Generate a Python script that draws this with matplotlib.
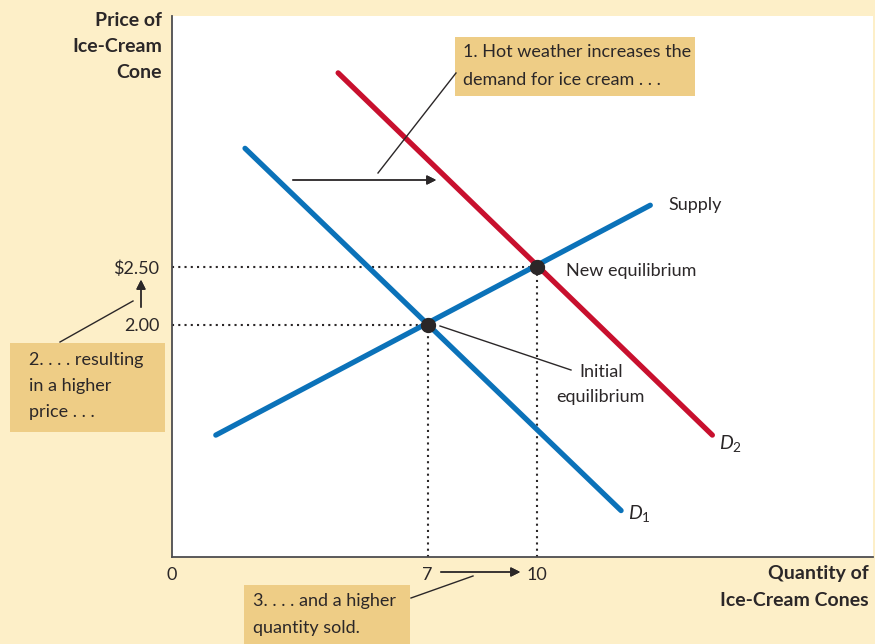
import matplotlib.pyplot as plt
from matplotlib.patches import Rectangle

# curve end points (quantity, price)
supply_q = [1.2, 13.1]
supply_p = [1.05, 3.03]
d1_q = [2.0, 12.3]
d1_p = [3.52, 0.40]
d2_q = [4.55, 14.8]
d2_p = [4.17, 1.05]

# equilibria
eq_q = [7, 10]
eq_p = [2.00, 2.50]

x_ticks = [0, 7, 10]
x_tick_labels = ["0", "7", "10"]
y_ticks = [2.00, 2.50]
y_tick_labels = ["2.00", "$2.50"]

BLUE = "#0b72b9"
RED = "#c8102e"
BOX = "#eecd86"
BG = "#fdefc8"
INK = "#2b2728"

plt.rcParams['font.family'] = ['Lato', 'DejaVu Sans']
plt.rcParams['mathtext.fontset'] = 'custom'
plt.rcParams['mathtext.it'] = 'Lato:italic'
plt.rcParams['mathtext.rm'] = 'Lato'

W, H = 875, 644
fig = plt.figure(figsize=(W / 100, H / 100), dpi=100, facecolor=BG)


def px(x, y):
    # pixel position (top-left origin) -> figure fraction
    return x / W, 1 - y / H


ax = fig.add_axes([172 / W, 1 - 557 / H, (873 - 172) / W, (557 - 16) / H])
ax.set_facecolor("white")
ax.set_xlim(0, 19.2)
ax.set_ylim(0, 4.66)
for s in ["top", "right"]:
    ax.spines[s].set_visible(False)
for s in ["left", "bottom"]:
    ax.spines[s].set_color("#4d4d4f")
    ax.spines[s].set_linewidth(1.3)

fs = 13
ax.set_xticks(x_ticks)
ax.set_xticklabels(x_tick_labels, fontsize=fs, color=INK)
ax.set_yticks(y_ticks)
ax.set_yticklabels(y_tick_labels, fontsize=fs, color=INK)
ax.tick_params(length=0)
ax.tick_params(axis="x", pad=7)
ax.tick_params(axis="y", pad=9)

# dotted guide lines
for q, p in zip(eq_q, eq_p):
    ax.plot([0, q], [p, p], ls=(0, (1, 2)), color=INK, lw=1.5)
    ax.plot([q, q], [0, p], ls=(0, (1, 2)), color=INK, lw=1.5)

ax.plot(d1_q, d1_p, color=BLUE, lw=3.8, solid_capstyle="round")
ax.plot(supply_q, supply_p, color=BLUE, lw=3.8, solid_capstyle="round")
ax.plot(d2_q, d2_p, color=RED, lw=3.8, solid_capstyle="round")
ax.plot(eq_q, eq_p, "o", color=INK, ms=10, zorder=5)

ax.text(13.6, 3.03, "Supply", fontsize=fs, color=INK, va="center")
ax.text(10.8, 2.46, "New equilibrium", fontsize=fs, color=INK, va="center")
fig.text(*px(601, 372), "Initial", fontsize=fs, color=INK, ha="center", va="center")
fig.text(*px(600, 397), "equilibrium", fontsize=fs, color=INK, ha="center", va="center")
fig.text(*px(719, 443), r"$\mathit{D}_2$", fontsize=14, color=INK, va="center")
fig.text(*px(628, 514), r"$\mathit{D}_1$", fontsize=14, color=INK, va="center")

# axis titles
for y, t in zip([20, 47, 73], ["Price of", "Ice-Cream", "Cone"]):
    fig.text(*px(162, y), t, fontsize=14, fontweight="bold", color=INK,
             ha="right", va="center")
for y, t in zip([574, 601], ["Quantity of", "Ice-Cream Cones"]):
    fig.text(*px(869, y), t, fontsize=14, fontweight="bold", color=INK,
             ha="right", va="center")

# callout boxes
boxes = [
    (455, 37, 695, 96, 463, [52, 80],
     ["1. Hot weather increases the", "demand for ice cream . . ."]),
    (10, 343, 165, 432, 29, [360, 386, 412],
     ["2. . . . resulting", "in a higher", "price . . ."]),
    (244, 585, 410, 644, 253, [601, 628],
     ["3. . . . and a higher", "quantity sold."]),
]
for x0, y0, x1, y1, tx, ys, lines in boxes:
    fig.patches.append(Rectangle(px(x0, y1), (x1 - x0) / W, (y1 - y0) / H,
                                 transform=fig.transFigure, fc=BOX, ec="none"))
    for y, t in zip(ys, lines):
        fig.text(*px(tx, y), t, fontsize=fs, color=INK, va="center")

# leader lines
leaders = [((456, 73), (378, 173)), ((60, 342), (133, 301)),
           ((411, 598), (473, 576)), ((440, 326), (571, 370))]
for a, b in leaders:
    fig.add_artist(plt.Line2D([px(*a)[0], px(*b)[0]], [px(*a)[1], px(*b)[1]],
                              transform=fig.transFigure, color=INK, lw=1))

# shift arrows
arrows = [((290, 180), (439, 180)), ((141, 310), (141, 277)),
          ((438, 572), (523, 572))]
for a, b in arrows:
    fig.add_artist(plt.annotate("", xy=px(*b), xytext=px(*a),
                                xycoords="figure fraction",
                                arrowprops=dict(arrowstyle="-|>", color=INK,
                                                lw=1, mutation_scale=14)))

fig.savefig("out.png", dpi=100, facecolor=BG)
